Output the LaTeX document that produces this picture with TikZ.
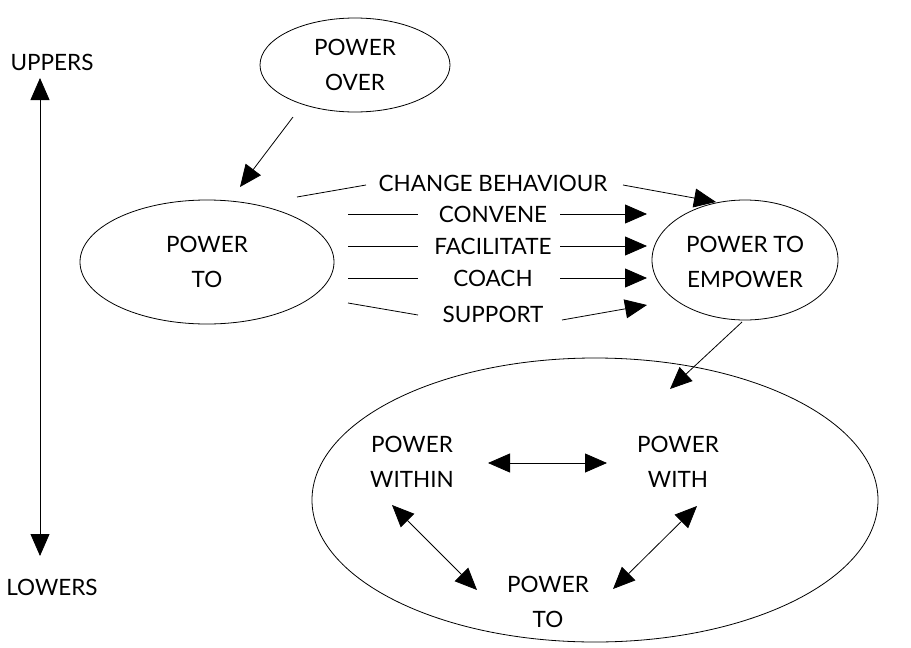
\documentclass[tikz,border=0pt]{standalone}
\usepackage{fontspec}
\setmainfont{Lato}
\usetikzlibrary{arrows.meta,shapes.geometric}
\begin{document}
\begin{tikzpicture}[x=1pt,y=-1pt,
  lbl/.style={font=\fontsize{22.5}{35}\selectfont, align=center, inner sep=0pt},
  oval/.style={draw, ellipse, line width=0.8pt},
  conn/.style={line width=0.8pt},
  tip/.style={conn, -{Triangle[length=22pt,width=19pt]}},
  both/.style={conn, {Triangle[length=22pt,width=19pt]}-{Triangle[length=22pt,width=19pt]}}]
\useasboundingbox (0,0) rectangle (911,648);
% ellipses
\node[oval, minimum width=190pt, minimum height=94pt] (over) at (355,65) {};
\node[oval, minimum width=254pt, minimum height=124pt] (pto) at (207,262) {};
\node[oval, minimum width=186pt, minimum height=120pt] (emp) at (745,260) {};
\node[oval, minimum width=566pt, minimum height=284pt] (big) at (595,500) {};
% texts
\node[lbl] (tover) at (355,65) {POWER\\OVER};
\node[lbl] (tpto) at (207,262) {POWER\\TO};
\node[lbl] (temp) at (745,262) {POWER TO\\EMPOWER};
\node[lbl] (uppers) at (52,62) {UPPERS};
\node[lbl] (lowers) at (52,587) {LOWERS};
\node[lbl] (within) at (412,462) {POWER\\WITHIN};
\node[lbl] (with) at (678,462) {POWER\\WITH};
\node[lbl] (pto2) at (548,602) {POWER\\TO};
\node[lbl] (chg) at (493,183) {CHANGE BEHAVIOUR};
\node[lbl] (conv) at (493,214) {CONVENE};
\node[lbl] (fac) at (493,246) {FACILITATE};
\node[lbl] (coach) at (493,278) {COACH};
\node[lbl] (supp) at (493,314) {SUPPORT};
% vertical axis
\coordinate (axT) at (40,78);
\coordinate (axB) at (40,556);
\draw[both] (axB) -- (axT);
% power over -> power to
\coordinate (o1) at (293,117);
\coordinate (o2) at (240,187);
\draw[tip] (o1) -- (o2);
% change behaviour
\coordinate (c1) at (297,197); \coordinate (c2) at (366,185);
\coordinate (c3) at (623,185); \coordinate (c4) at (716,202);
\draw[conn] (c1) -- (c2);
\draw[tip] (c3) -- (c4);
% convene
\coordinate (v1) at (348,214); \coordinate (v2) at (418,214);
\coordinate (v3) at (560,214); \coordinate (v4) at (647,214);
\draw[conn] (v1) -- (v2); \draw[tip] (v3) -- (v4);
% facilitate
\coordinate (f1) at (348,246); \coordinate (f2) at (418,246);
\coordinate (f3) at (560,246); \coordinate (f4) at (647,246);
\draw[conn] (f1) -- (f2); \draw[tip] (f3) -- (f4);
% coach
\coordinate (k1) at (348,278); \coordinate (k2) at (418,278);
\coordinate (k3) at (560,278); \coordinate (k4) at (647,278);
\draw[conn] (k1) -- (k2); \draw[tip] (k3) -- (k4);
% support
\coordinate (s1) at (348,303); \coordinate (s2) at (418,315);
\coordinate (s3) at (562,320); \coordinate (s4) at (647,305);
\draw[conn] (s1) -- (s2); \draw[tip] (s3) -- (s4);
% empower -> big
\coordinate (e1) at (742,322); \coordinate (e2) at (670,389);
\draw[tip] (e1) -- (e2);
% inner arrows
\coordinate (h1) at (488,463); \coordinate (h2) at (607,463);
\draw[both] (h1) -- (h2);
\coordinate (l1) at (392,505); \coordinate (l2) at (477,590);
\draw[both] (l1) -- (l2);
\coordinate (r1) at (697,506); \coordinate (r2) at (613,589);
\draw[both] (r1) -- (r2);
\end{tikzpicture}
\end{document}
